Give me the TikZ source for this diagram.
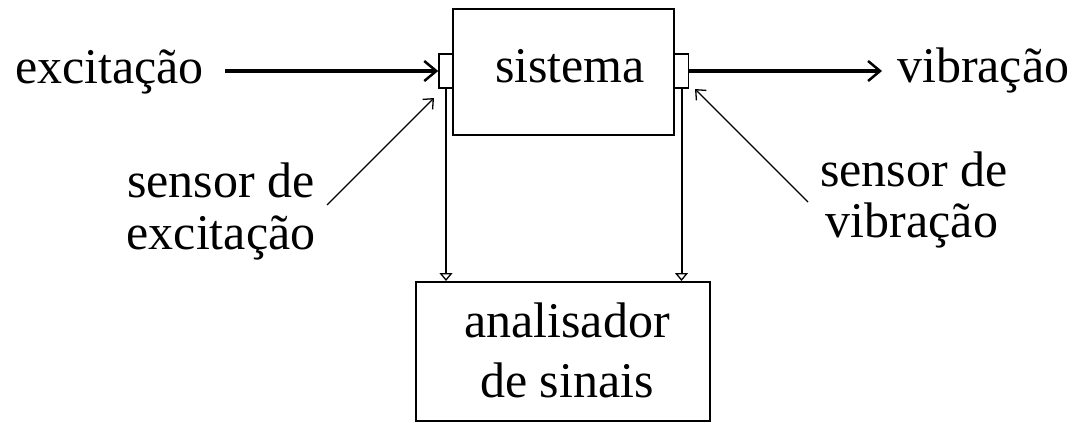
\documentclass[tikz,border=0pt]{standalone}
\usepackage{fontspec}
\setmainfont{Liberation Serif}
\usetikzlibrary{arrows.meta}
\begin{document}
\begin{tikzpicture}[x=1pt,y=-1pt,
  txt/.style={font=\fontsize{50}{55}\selectfont, inner sep=0pt, align=center},
  box/.style={draw, line width=2pt, inner sep=0pt},
  sens/.style={draw, line width=1.6pt, inner sep=0pt, minimum width=14pt, minimum height=34pt},
  mainarrow/.style={line width=4pt, -{Straight Barb[length=12pt,width=20pt,line width=2.5pt]}},
  thinarrow/.style={line width=1.3pt, -{Straight Barb[length=8pt,width=14pt,line width=1.3pt]}},
  sigarrow/.style={line width=2pt, -{Triangle[open,length=8pt,width=13pt,line width=1.3pt]}}]
\useasboundingbox (0,0) rectangle (1079,423);
% boxes
\node[box, minimum width=221pt, minimum height=126pt] (sys) at (563.5,72) {};
\node[txt, anchor=base] (systxt) at (570,82) {sistema};
\node[sens] (sL) at (446,71) {};
\node[sens] (sR) at (681.5,71) {};
\node[box, minimum width=294pt, minimum height=139pt, anchor=north west] (an) at (415,281) {};
\node[txt, anchor=base] (antxt1) at (567,337) {analisador};
\node[txt, anchor=base] (antxt2) at (567,397) {de sinais};
% labels
\node[txt, anchor=base west] (exc) at (15,83) {excitação};
\node[txt, anchor=base west] (vib) at (897,82) {vibração};
\node[txt, anchor=base] (sl1) at (221,197) {sensor de};
\node[txt, anchor=base] (sl2) at (221,249) {excitação};
\node[txt, anchor=base] (sr1) at (914,186) {sensor de};
\node[txt, anchor=base] (sr2) at (912,237) {vibração};
% connectors
\coordinate (inStart) at (225,71);
\coordinate (outEnd) at (882,71);
\draw[mainarrow] (inStart) -- (sL.west);
\draw[mainarrow] (sR.east) -- (outEnd);
\coordinate (slStart) at (327,205);
\coordinate (slEnd) at (434,98);
\coordinate (srStart) at (808,202);
\coordinate (srEnd) at (695,89);
\draw[thinarrow] (slStart) -- (slEnd);
\draw[thinarrow] (srStart) -- (srEnd);
\draw[sigarrow] (sL.south) -- (sL.south |- an.north);
\draw[sigarrow] (sR.south) -- (sR.south |- an.north);
\end{tikzpicture}
\end{document}
